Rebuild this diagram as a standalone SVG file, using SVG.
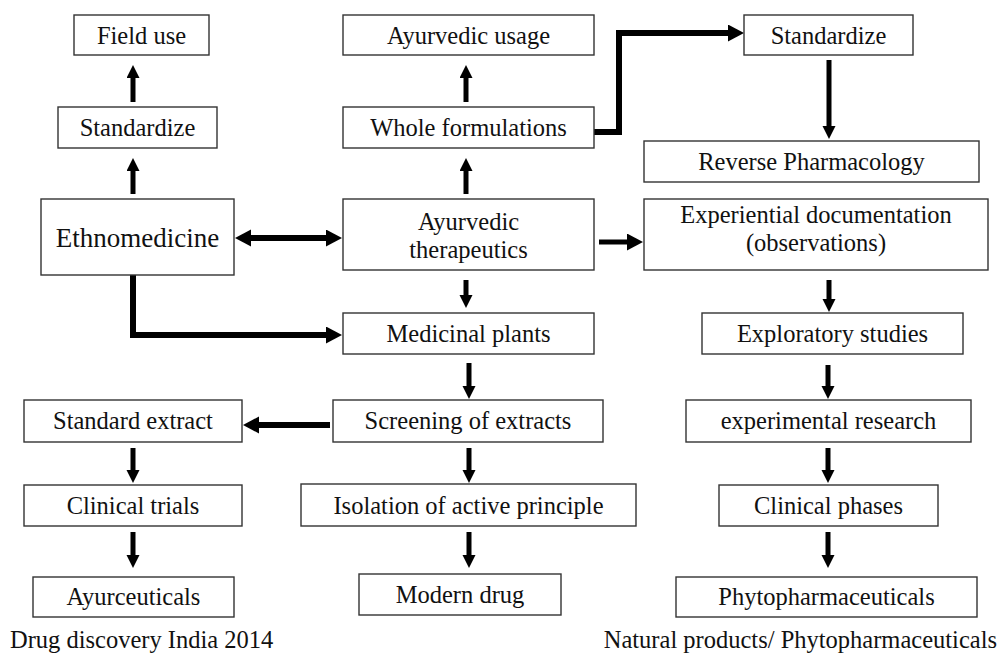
<svg xmlns="http://www.w3.org/2000/svg" width="998" height="655" viewBox="0 0 998 655">
<style>
.box{fill:#fff;stroke:#333;stroke-width:1.4}
.t{font-family:'Liberation Serif','DejaVu Serif',serif;font-size:24.5px;fill:#111;text-anchor:middle}
.big{font-size:27px}
.foot{font-family:'Liberation Serif','DejaVu Serif',serif;font-size:24.5px;fill:#111}
.a{stroke:#000;stroke-width:5;fill:none}
.ah{stroke:#000;stroke-width:6;fill:none}
</style>
<defs>
<marker id="mv" markerUnits="userSpaceOnUse" markerWidth="14" markerHeight="14" refX="3" refY="6.5" orient="auto" viewBox="0 0 14 14">
<path d="M0,0 L13,6.5 L0,13 z" fill="#000"/>
</marker>
<marker id="mh" markerUnits="userSpaceOnUse" markerWidth="18" markerHeight="18" refX="4" refY="8.5" orient="auto-start-reverse" viewBox="0 0 18 18">
<path d="M0,0 L16,8.5 L0,17 z" fill="#000"/>
</marker>
</defs>

<g id="connectors">
<line class="a" x1="133" y1="194" x2="133" y2="168" marker-end="url(#mv)"/>
<line class="a" x1="133" y1="102" x2="133" y2="75" marker-end="url(#mv)"/>
<line class="a" x1="466" y1="194" x2="466" y2="168" marker-end="url(#mv)"/>
<line class="a" x1="466" y1="102" x2="466" y2="75" marker-end="url(#mv)"/>
<line class="a" x1="466" y1="280" x2="466" y2="298" marker-end="url(#mv)"/>
<line class="a" x1="829" y1="60" x2="829" y2="129" marker-end="url(#mv)"/>
<line class="a" x1="829" y1="280" x2="829" y2="302" marker-end="url(#mv)"/>
<line class="a" x1="469" y1="363" x2="469" y2="389" marker-end="url(#mv)"/>
<line class="a" x1="469" y1="448" x2="469" y2="473" marker-end="url(#mv)"/>
<line class="a" x1="469" y1="532" x2="469" y2="558" marker-end="url(#mv)"/>
<line class="a" x1="133" y1="448" x2="133" y2="473" marker-end="url(#mv)"/>
<line class="a" x1="133" y1="532" x2="133" y2="558" marker-end="url(#mv)"/>
<line class="a" x1="828" y1="365" x2="828" y2="389" marker-end="url(#mv)"/>
<line class="a" x1="828" y1="448" x2="828" y2="473" marker-end="url(#mv)"/>
<line class="a" x1="828" y1="532" x2="828" y2="558" marker-end="url(#mv)"/>
<line class="ah" x1="247" y1="238" x2="330" y2="238" marker-start="url(#mh)" marker-end="url(#mh)"/>
<line class="a" x1="599" y1="242" x2="631" y2="242" marker-end="url(#mh)"/>
<line class="ah" x1="330" y1="425" x2="255" y2="425" marker-end="url(#mh)"/>
<path class="ah" d="M133,275 L133,335 L330,335" marker-end="url(#mh)"/>
<path class="ah" d="M594,132 L619,132 L619,33 L732,33" marker-end="url(#mh)"/>
</g>

<g id="field-use"><rect class="box" x="74" y="15" width="135" height="40"/><text class="t" x="141.5" y="44">Field use</text></g>
<g id="standardize-left"><rect class="box" x="58" y="107" width="159" height="41"/><text class="t" x="137.5" y="136">Standardize</text></g>
<g id="ethnomedicine"><rect class="box" x="41" y="199" width="193" height="76"/><text class="t big" x="137.5" y="247">Ethnomedicine</text></g>
<g id="ayurvedic-usage"><rect class="box" x="343" y="15" width="251" height="40"/><text class="t" x="468.5" y="44">Ayurvedic usage</text></g>
<g id="whole-formulations"><rect class="box" x="343" y="107" width="251" height="41"/><text class="t" x="468.5" y="136">Whole formulations</text></g>
<g id="ayurvedic-therapeutics"><rect class="box" x="343" y="199" width="251" height="71"/><text class="t" x="468.5" y="230">Ayurvedic</text><text class="t" x="468.5" y="258">therapeutics</text></g>
<g id="standardize-right"><rect class="box" x="744" y="15" width="169" height="40"/><text class="t" x="828.5" y="44">Standardize</text></g>
<g id="reverse-pharmacology"><rect class="box" x="644" y="141" width="335" height="41"/><text class="t" x="811.5" y="170">Reverse Pharmacology</text></g>
<g id="experiential-documentation"><rect class="box" x="644" y="199" width="344" height="71"/><text class="t" x="816" y="223">Experiential documentation</text><text class="t" x="816" y="251">(observations)</text></g>
<g id="medicinal-plants"><rect class="box" x="343" y="313" width="251" height="41"/><text class="t" x="468.5" y="342">Medicinal plants</text></g>
<g id="exploratory-studies"><rect class="box" x="702" y="313" width="261" height="41"/><text class="t" x="832.5" y="342">Exploratory studies</text></g>
<g id="standard-extract"><rect class="box" x="24" y="400" width="218" height="42"/><text class="t" x="133" y="429">Standard extract</text></g>
<g id="screening-of-extracts"><rect class="box" x="333" y="400" width="270" height="42"/><text class="t" x="468" y="429">Screening of extracts</text></g>
<g id="experimental-research"><rect class="box" x="686" y="400" width="285" height="42"/><text class="t" x="828.5" y="429">experimental research</text></g>
<g id="clinical-trials"><rect class="box" x="24" y="485" width="218" height="41"/><text class="t" x="133" y="514">Clinical trials</text></g>
<g id="isolation-of-active-principle"><rect class="box" x="301" y="484" width="335" height="42"/><text class="t" x="468.5" y="514">Isolation of active principle</text></g>
<g id="clinical-phases"><rect class="box" x="719" y="485" width="219" height="41"/><text class="t" x="828.5" y="514">Clinical phases</text></g>
<g id="ayurceuticals"><rect class="box" x="33" y="577" width="201" height="40"/><text class="t" x="133.5" y="605">Ayurceuticals</text></g>
<g id="modern-drug"><rect class="box" x="359" y="574" width="202" height="41"/><text class="t" x="460" y="603">Modern drug</text></g>
<g id="phytopharmaceuticals"><rect class="box" x="676" y="577" width="301" height="40"/><text class="t" x="826.5" y="605">Phytopharmaceuticals</text></g>

<text class="foot" x="10" y="648">Drug discovery India 2014</text>
<text class="foot" x="997" y="648" text-anchor="end">Natural products/ Phytopharmaceuticals</text>
</svg>
